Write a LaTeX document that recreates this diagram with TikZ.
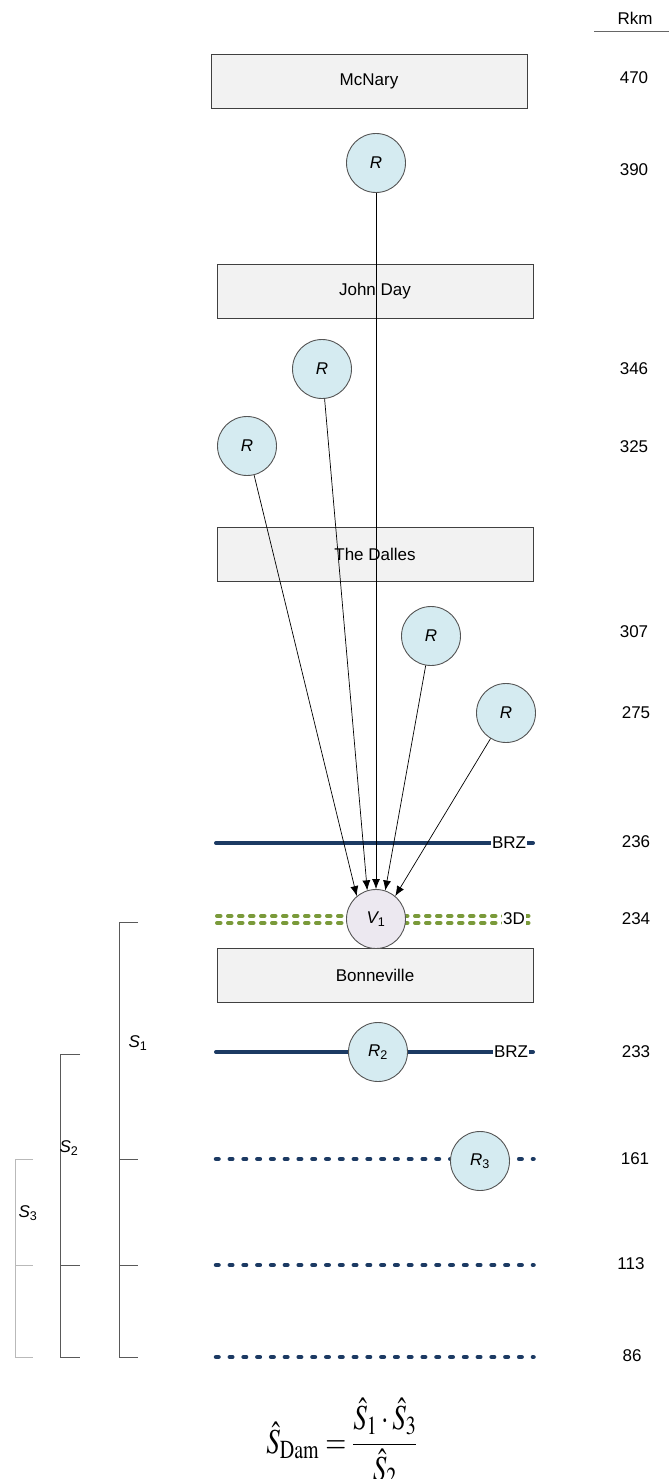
\documentclass[tikz,border=0pt]{standalone}
\usepackage{mathptmx}
\usepackage{graphicx}
\usepackage[no-math]{fontspec}
\setmainfont{Liberation Sans}
\usetikzlibrary{arrows.meta}
\definecolor{boxfill}{HTML}{F2F2F2}
\definecolor{boxdraw}{HTML}{404040}
\definecolor{rfill}{HTML}{D5EBF1}
\definecolor{vfill}{HTML}{ECE8F0}
\definecolor{navy}{HTML}{1C3A63}
\definecolor{grn}{HTML}{7A9A3A}
\definecolor{circdraw}{HTML}{555555}
\begin{document}
\begin{tikzpicture}[x=1pt,y=-1pt,
  every node/.style={font=\fontsize{17}{20}\selectfont},
  dam/.style={draw=boxdraw,fill=boxfill,line width=0.9pt,minimum width=316pt,minimum height=54pt,inner sep=0pt},
  rnode/.style={circle,draw=circdraw,fill=rfill,minimum size=59pt,inner sep=0pt,line width=0.9pt,font=\fontsize{17}{20}\selectfont\itshape},
  vnode/.style={rnode,fill=vfill},
  solidbrz/.style={draw=navy,line width=4pt,line cap=round},
  dotline/.style={draw=navy,line width=4.5pt,line cap=round,dash pattern=on 2.5pt off 11.28pt},
  greenline/.style={draw=grn,line width=4pt,line cap=round,dash pattern=on 3.5pt off 7.5pt},
  tag/.style={fill=white,inner sep=1pt},
  conn/.style={-{Latex[length=10pt,width=8pt]},line width=0.7pt},
  bracket/.style={draw=gray!70!black,line width=1pt},
]
\useasboundingbox (0,0) rectangle (669,1479);

% header
\node (rkm) at (635,18) {Rkm};
\coordinate (ul) at (594,32);
\coordinate (ur) at (669,32);
\draw[line width=1pt,draw=gray!80!black] (ul) -- (ur);

% river km labels
\node (k470) at (634,78) {470};
\node (k390) at (634,170) {390};
\node (k346) at (634,369) {346};
\node (k325) at (634,447) {325};
\node (k307) at (634,632) {307};
\node (k275) at (636,713) {275};
\node (k236) at (636,842) {236};
\node (k234) at (636,919) {234};
\node (k233) at (636,1052) {233};
\node (k161) at (635,1159) {161};
\node (k113) at (631,1264) {113};
\node (k86) at (632,1356) {86};

% dams
\node[dam] (mcnary) at (369,81) {McNary};
\node[dam] (johnday) at (375,291.5) {John Day};
\node[dam] (dalles) at (375,554.5) {The Dalles};
\node[dam] (bonn) at (375,975) {Bonneville};

% BRZ 236
\coordinate (a1) at (216,843);
\coordinate (a2) at (533,843);
\draw[solidbrz] (a1) -- (a2);
\node[tag] (brz1) at (509,843) {BRZ};

% 3D line 234
\coordinate (g1) at (217,916);
\coordinate (g2) at (533,916);
\coordinate (g3) at (217,923);
\coordinate (g4) at (533,923);
\draw[greenline] (g1) -- (g2);
\draw[greenline] (g3) -- (g4);
\node[tag] (td) at (514,919) {3D};

% BRZ 233
\coordinate (c1) at (216,1052);
\coordinate (c2) at (533,1052);
\draw[solidbrz] (c1) -- (c2);
\node[tag] (brz2) at (511,1052) {BRZ};

% dotted lines
\coordinate (d1) at (216,1159);
\coordinate (d2) at (533.5,1159);
\coordinate (e1) at (216,1265);
\coordinate (e2) at (533.5,1265);
\coordinate (f1) at (216,1357);
\coordinate (f2) at (533.5,1357);
\draw[dotline] (d1) -- (d2);
\draw[dotline] (e1) -- (e2);
\draw[dotline] (f1) -- (f2);

% circles
\node[rnode] (r390) at (376,163) {R};
\node[rnode] (r346) at (322,369) {R};
\node[rnode] (r325) at (247,446) {R};
\node[rnode] (r307) at (431,636) {R};
\node[rnode] (r275) at (506,713) {R};
\node[vnode] (v1) at (376,919) {V\textsubscript{\upshape 1}};
\node[rnode] (r2) at (378,1052) {R\textsubscript{\upshape 2}};
\node[rnode] (r3) at (480,1161) {R\textsubscript{\upshape 3}};

% connectors
\draw[conn] (r390) -- (v1.90);
\draw[conn] (r346) -- (v1.107);
\draw[conn] (r325) -- (v1.130);
\draw[conn] (r307) -- (v1.72);
\draw[conn] (r275) -- (v1.50);

% brackets
\draw[bracket] (138,922) -- (119,922) -- (119,1357) -- (138,1357);
\draw[bracket] (119,1159) -- (138,1159);
\draw[bracket] (119,1265) -- (138,1265);
\draw[bracket] (80,1054) -- (60,1054) -- (60,1357) -- (80,1357);
\draw[bracket] (60,1265) -- (80,1265);
\draw[bracket,draw=gray!55] (33,1159) -- (15,1159) -- (15,1357) -- (33,1357);
\draw[bracket,draw=gray!55] (15,1265) -- (33,1265);
\node (s1) at (138,1043) {\itshape S\textsubscript{\upshape 1}};
\node (s2) at (69,1148) {\itshape S\textsubscript{\upshape 2}};
\node (s3) at (28,1213) {\itshape S\textsubscript{\upshape 3}};

% formula
\node (formula) at (342,1442) {\scalebox{1}[1.3]{\fontsize{27}{32}\selectfont $\displaystyle \hat{S}_{\mathrm{Dam}}=\frac{\hat{S}_1\cdot\hat{S}_3}{\hat{S}_2}$}};
\end{tikzpicture}
\end{document}
